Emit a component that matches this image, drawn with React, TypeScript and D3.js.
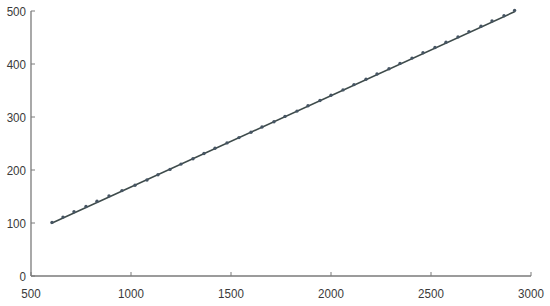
import React from "react";
import * as d3 from "d3";

const xTicks = [500, 1000, 1500, 2000, 2500, 3000];
const yTicks = [0, 100, 200, 300, 400, 500];
const pointX = [605, 660, 715, 775, 830, 890, 955, 1020, 1080, 1135, 1195, 1250, 1310, 1365, 1420, 1480, 1540, 1600, 1655, 1715, 1770, 1830, 1885, 1945, 2000, 2060, 2115, 2175, 2230, 2290, 2345, 2405, 2460, 2520, 2575, 2635, 2690, 2750, 2805, 2865, 2918];
const pointY = [100, 110, 120, 130, 140, 150, 160, 170, 180, 190, 200, 210, 220, 230, 240, 250, 260, 270, 280, 290, 300, 310, 320, 330, 340, 350, 360, 370, 380, 390, 400, 410, 420, 430, 440, 450, 460, 470, 480, 490, 500];
const fitX = [600, 2920];
const fitY = [99, 499];

export default function App() {
  const W = 550, H = 306;
  const x = d3.scaleLinear().domain([500, 3000]).range([31, 531]);
  const y = d3.scaleLinear().domain([0, 500]).range([276, 11]);
  const line = d3.line<number>().x((d, i) => x(fitX[i])).y((d) => y(d));
  const font = "'Liberation Sans', Arial, sans-serif";
  const axisColor = "#7a7a7a";
  const textColor = "#3a3a3a";
  return (
    <svg width={W} height={H} style={{ position: "absolute", left: 0, top: 0, background: "#fff" }}>
      <line x1={x(500)} x2={x(3000)} y1={y(0)} y2={y(0)} stroke={axisColor} strokeWidth={1.3} />
      <line x1={x(500)} x2={x(500)} y1={y(0)} y2={y(500)} stroke={axisColor} strokeWidth={1.3} />
      {xTicks.map((t) => (
        <g key={"x" + t}>
          <line x1={x(t)} x2={x(t)} y1={y(0)} y2={y(0) - 4} stroke={axisColor} strokeWidth={1} />
          <text transform={`translate(${x(t)},${y(0) + 22}) scale(0.86,1)`} textAnchor="middle" fontFamily={font} fontSize={13.5} fill={textColor}>{t}</text>
        </g>
      ))}
      {yTicks.map((t) => (
        <g key={"y" + t}>
          <line x1={x(500)} x2={x(500) + 4} y1={y(t)} y2={y(t)} stroke={axisColor} strokeWidth={1} />
          <text transform={`translate(${x(500) - 5},${y(t) + 5}) scale(0.86,1)`} textAnchor="end" fontFamily={font} fontSize={13.5} fill={textColor}>{t}</text>
        </g>
      ))}
      <path d={line(fitY) || ""} fill="none" stroke="#3e4b4b" strokeWidth={1.6} />
      {pointX.map((px, i) => (
        <circle key={i} cx={x(px)} cy={y(pointY[i]) - 0.6} r={1.7} fill="#465563" />
      ))}
    </svg>
  );
}
